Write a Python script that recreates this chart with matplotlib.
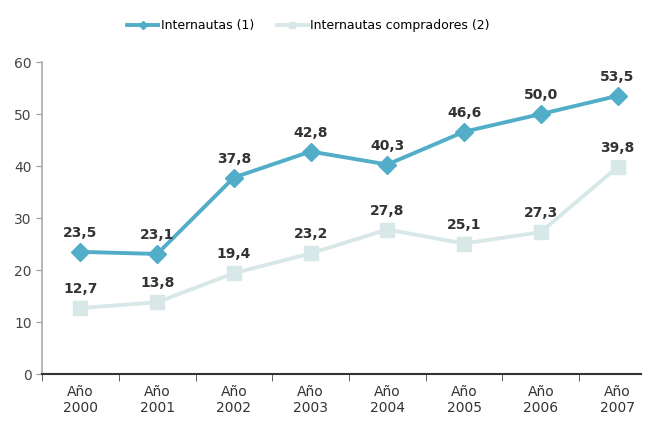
import numpy as np
import matplotlib.pyplot as plt

years = ["Año\n2000", "Año\n2001", "Año\n2002", "Año\n2003", "Año\n2004", "Año\n2005", "Año\n2006", "Año\n2007"]
internautas = [23.5, 23.1, 37.8, 42.8, 40.3, 46.6, 50.0, 53.5]
compradores = [12.7, 13.8, 19.4, 23.2, 27.8, 25.1, 27.3, 39.8]

fig = plt.figure(figsize=(6.47, 4.28), dpi=100)
ax = fig.add_axes([0.065, 0.126, 0.925, 0.729])
x = np.arange(len(years))

ax.plot(x, internautas, color="#52AEC8", lw=2.8, marker="D", ms=9,
        label="Internautas (1)", zorder=3)
ax.plot(x, compradores, color="#D8E8E8", lw=2.8, marker="s", ms=10,
        label="Internautas compradores (2)", zorder=3)

for xi, v in zip(x, internautas):
    ax.text(xi, v + 2.3, f"{v:.1f}".replace(".", ","), ha="center", va="bottom",
            fontsize=10, fontweight="bold", color="#333333")
for xi, v in zip(x, compradores):
    ax.text(xi, v + 2.3, f"{v:.1f}".replace(".", ","), ha="center", va="bottom",
            fontsize=10, fontweight="bold", color="#333333")

ax.set_xlim(-0.5, 7.3)
ax.set_ylim(0, 60)
ax.set_yticks(range(0, 61, 10))
ax.set_xticks(x)
ax.set_xticklabels(years, fontsize=10, color="#333333")
ax.set_xticks(np.arange(-0.5, 7.5, 1), minor=True)
ax.tick_params(axis="x", which="major", length=0, pad=8)
ax.tick_params(axis="x", which="minor", length=5, color="#444444")
ax.tick_params(axis="y", length=4, labelsize=10, labelcolor="#444444", color="#999999")
ax.spines["top"].set_visible(False)
ax.spines["right"].set_visible(False)
ax.spines["left"].set_color("#aaaaaa")
ax.spines["left"].set_linewidth(1.2)
ax.spines["bottom"].set_color("#333333")
ax.spines["bottom"].set_linewidth(1.5)

ax.legend(loc="lower center", bbox_to_anchor=(0.445, 1.06), ncol=2, frameon=False,
          fontsize=9, handlelength=2.5, handletextpad=0.2, columnspacing=1.8,
          markerscale=0.5)

fig.savefig("out.png", dpi=100)
